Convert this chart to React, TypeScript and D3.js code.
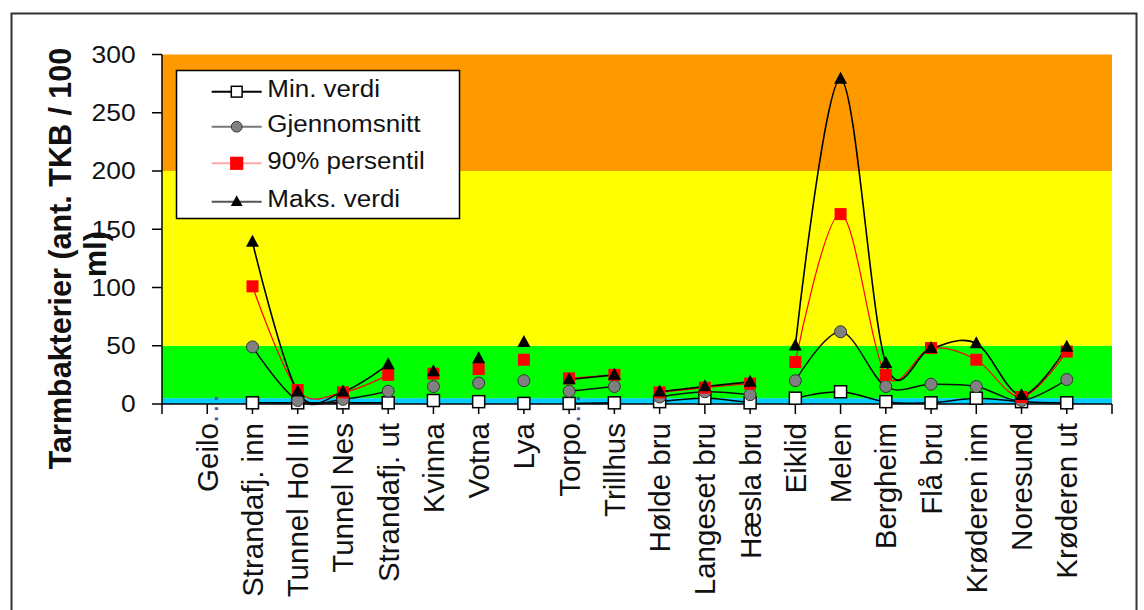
import React from "react";
import * as d3 from "d3";

const categories = [
  "Geilo...", "Strandafj. inn", "Tunnel Hol III", "Tunnel Nes", "Strandafj. ut",
  "Kvinna", "Votna", "Lya", "Torpo...", "Trillhus", "Hølde bru", "Langeset bru",
  "Hæsla bru", "Eiklid", "Melen", "Bergheim", "Flå bru", "Krøderen inn", "Noresund", "Krøderen ut",
];
const minValues = [null, 1, 1, 1, 1, 3, 2, 0.5, 0.5, 1, 2, 5, 1, 5, 10.5, 2, 1, 5, 2, 1];
const avgValues = [null, 49, 3, 4, 11, 15, 18, 20, 11, 15, 6, 10.5, 8, 20, 62, 15, 17, 15, 3, 21];
const p90Values = [null, 101, 12, 10, 25, 26, 30, 38, 22, 25, 10, 14, 17.5, 36, 163, 25, 48, 38, 6, 45];
const maxValues = [null, 139, 10.5, 10.5, 34, 28, 39, 53, 21, 25, 10.5, 15, 19, 50, 279, 35, 48, 52, 7.5, 49];
// connected runs of stations (index ranges)
const lineSegments = [[1, 4], [5, 5], [6, 6], [7, 7], [8, 9], [10, 12], [13, 19]];
const yTicks = [0, 50, 100, 150, 200, 250, 300];
const bandLimits = [0, 5, 50, 200, 300];
const bandColors = ["#00CCFF", "#00FF00", "#FFFF00", "#FF9900"];
const seriesNames = ["Min. verdi", "Gjennomsnitt", "90% persentil", "Maks. verdi"];
const yTitleLines = ["Tarmbakterier (ant. TKB / 100", "ml)"];

const FONT = "'Liberation Sans', Arial, sans-serif";

function Marker({ kind, x, y, s = 1 }: { kind: number; x: number; y: number; s?: number }) {
  if (kind === 0) {
    const w = 12 * s;
    return <rect x={x - w / 2} y={y - w / 2} width={w} height={w} fill="#fff" stroke="#000" strokeWidth={1.5} />;
  }
  if (kind === 1) {
    return <circle cx={x} cy={y} r={6 * s} fill="#808080" stroke="#333" strokeWidth={1} />;
  }
  if (kind === 2) {
    const w = 12 * s;
    return <rect x={x - w / 2} y={y - w / 2} width={w} height={w} fill="#FF0000" />;
  }
  const w = 13 * s;
  const h = 12 * s;
  return <path d={`M${x},${y - h * 0.6}L${x + w / 2},${y + h * 0.4}L${x - w / 2},${y + h * 0.4}Z`} fill="#000" />;
}

export default function App() {
  const x = d3.scaleLinear().domain([0, categories.length + 1]).range([162, 1112]);
  const y = d3.scaleLinear().domain([0, 300]).range([404, 54.5]);
  const series = [minValues, avgValues, p90Values, maxValues];
  const lineColors = ["#000", "#111", "#FF0000", "#000"];
  const lineWidths = [1.5, 1.5, 1.2, 1.6];
  const legendLineColors = ["#000", "#777", "#FFAAAA", "#555"];
  const line = d3
    .line<[number, number]>()
    .x((d) => d[0])
    .y((d) => d[1])
    .curve(d3.curveCardinal.tension(0));

  const legendY = [91.7, 126.7, 163.3, 201.7];

  return (
    <svg width={1144} height={610} style={{ position: "absolute", left: 0, top: 0, background: "#fff" }} fontFamily={FONT}>
      <rect x={0} y={0} width={1144} height={610} fill="#fff" />
      {/* frame */}
      <rect x={11.5} y={13.5} width={1125} height={640} fill="none" stroke="#333" strokeWidth={2} />
      {/* bands */}
      {bandColors.map((c, i) => (
        <rect
          key={c}
          x={x(0)}
          y={y(bandLimits[i + 1])}
          width={x(categories.length + 1) - x(0)}
          height={y(bandLimits[i]) - y(bandLimits[i + 1])}
          fill={c}
        />
      ))}
      {/* axes */}
      <line x1={x(0)} x2={x(0)} y1={y(300)} y2={y(0)} stroke="#000" strokeWidth={1.5} />
      <line x1={x(0)} x2={x(categories.length + 1)} y1={y(0)} y2={y(0)} stroke="#000" strokeWidth={1.5} />
      {yTicks.map((t) => (
        <g key={t}>
          <line x1={x(0) - 10} x2={x(0)} y1={y(t)} y2={y(t)} stroke="#000" strokeWidth={1.5} />
          <text
            transform={`translate(135.6,${y(t)}) scale(1.125,1)`}
            textAnchor="end"
            dy="0.36em"
            fontSize={23.5}
            fill="#111"
          >
            {t}
          </text>
        </g>
      ))}
      {d3.range(0, categories.length + 2).map((i) => (
        <line key={i} x1={x(i)} x2={x(i)} y1={y(0)} y2={y(0) + 10} stroke="#000" strokeWidth={1.5} />
      ))}
      {categories.map((c, i) => {
        const cx = x(i + 1) + 10.5;
        const dots = c.endsWith("...");
        const base = dots ? c.slice(0, -3) : c;
        return (
          <g key={c}>
            <text transform={`translate(${cx},423) rotate(-90)`} textAnchor="end" fontSize={29.5} fill="#111">
              {base}
            </text>
            {dots && (
              <text transform={`translate(${cx},423) rotate(-90)`} textAnchor="start" fontSize={29.5} fill="#4060a0" letterSpacing={2}>
                ...
              </text>
            )}
          </g>
        );
      })}
      {/* y title */}
      <text transform={`translate(71,258.5) rotate(-90)`} textAnchor="middle" fontSize={30.5} fontWeight="bold" fill="#111">
        {yTitleLines[0]}
      </text>
      <text transform={`translate(106,254) rotate(-90)`} textAnchor="middle" fontSize={30.5} fontWeight="bold" fill="#111">
        {yTitleLines[1]}
      </text>
      {/* lines */}
      {series.map((vals, si) =>
        lineSegments.map(([a, b], k) => {
          if (a === b) return null;
          const pts: [number, number][] = [];
          for (let i = a; i <= b; i++) {
            const v = vals[i];
            if (v != null) pts.push([x(i + 1), y(v)]);
          }
          return (
            <path
              key={`${si}-${k}`}
              d={line(pts) || ""}
              fill="none"
              stroke={lineColors[si]}
              strokeWidth={lineWidths[si]}
            />
          );
        })
      )}
      {/* markers */}
      {series.map((vals, si) =>
        vals.map((v, i) => (v == null ? null : <Marker key={`${si}-${i}`} kind={si} x={x(i + 1)} y={y(v)} />))
      )}
      {/* legend */}
      <rect x={176.5} y={70.5} width={283} height={148} fill="#fff" stroke="#000" strokeWidth={1.5} />
      {seriesNames.map((n, i) => (
        <g key={n}>
          <line x1={211.7} x2={261.7} y1={legendY[i]} y2={legendY[i]} stroke={legendLineColors[i]} strokeWidth={2} />
          <Marker kind={i} x={236.7} y={legendY[i]} s={i === 2 ? 1.1 : 0.9} />
          <text
            transform={`translate(267.3,${legendY[i] - 3}) scale(1.13,1)`}
            dy="0.36em"
            fontSize={23}
            fill="#111"
          >
            {n}
          </text>
        </g>
      ))}
    </svg>
  );
}
